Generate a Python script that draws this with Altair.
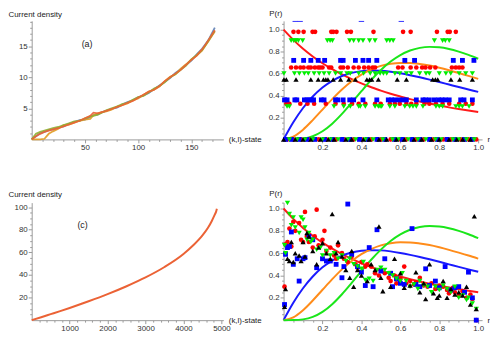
import altair as alt
import pandas as pd

# ---------------- Panel (a): current density vs (k,l)-state ----------------
a_x = [0, 4, 8, 12, 16, 20, 25, 30, 35, 40, 45, 50, 55, 58, 62, 66, 70, 75, 80, 85,
       90, 95, 100, 105, 110, 115, 120, 125, 130, 135, 140, 145, 150, 155, 160, 163,
       166, 169, 172]
a_blue = [0, 0.5, 1.0, 1.2, 1.5, 1.6, 1.9, 2.1, 2.5, 2.8, 3.1, 3.2, 3.6, 3.9, 4.0, 4.4,
          4.6, 4.9, 5.1, 5.6, 6.0, 6.3, 6.8, 7.1, 7.5, 8.1, 8.7, 9.3, 9.9, 10.7, 11.3,
          12.0, 12.7, 13.7, 14.6, 15.3, 16.0, 17.0, 18.0]
a_orange = [0, 0, 0, 0.1, 0.9, 1.3, 1.7, 2.3, 2.4, 2.7, 3.0, 3.2, 3.3, 3.9, 4.2, 4.4,
            4.5, 4.8, 5.3, 5.5, 5.8, 6.3, 6.6, 7.2, 7.7, 8.0, 8.5, 9.4, 10.1, 10.5,
            11.4, 12.1, 12.9, 13.5, 14.3, 15.1, 15.8, 16.6, 17.4]
a_green = [0, 0.9, 1.2, 1.4, 1.6, 1.8, 2.0, 2.3, 2.6, 2.9, 3.0, 3.4, 3.7, 3.8, 4.0, 4.3,
           4.7, 5.0, 5.3, 5.7, 5.9, 6.4, 6.8, 7.0, 7.6, 8.2, 8.6, 9.2, 10.0, 10.5, 11.2,
           11.9, 12.9, 13.6, 14.4, 15.1, 15.9, 16.7, 17.5]
a_red = [0, 0.5, 0.9, 1.2, 1.4, 1.6, 1.8, 2.1, 2.4, 2.7, 3.0, 3.4, 3.8, 4.3, 4.2, 4.4,
         4.6, 4.9, 5.2, 5.5, 5.9, 6.2, 6.7, 7.2, 7.7, 8.0, 8.6, 9.4, 10.0, 10.6, 11.2,
         12.0, 12.8, 13.5, 14.5, 15.2, 16.0, 16.8, 17.6]

# ---------------- Panel (c) ----------------
c_x = [0, 250, 500, 750, 1000, 1500, 2000, 2500, 3000, 3500, 4000, 4250, 4500, 4650,
       4750, 4820, 4860, 4880]
c_y = [0, 2.6, 5.3, 8.0, 10.8, 16.7, 23.0, 30.0, 37.8, 47.0, 58.5, 66.0, 75.0, 82.0,
       88.0, 93.0, 96.0, 98.5]

# ---------------- Reference curves P(r) ----------------
r_grid = [0, 0.05, 0.1, 0.15, 0.2, 0.25, 0.3, 0.35, 0.4, 0.45, 0.5, 0.55, 0.6, 0.65,
          0.7, 0.75, 0.8, 0.85, 0.9, 0.95, 1.0]
p_red = [1.0, 0.907, 0.826, 0.756, 0.694, 0.640, 0.592, 0.549, 0.510, 0.476, 0.444,
         0.416, 0.391, 0.367, 0.346, 0.327, 0.309, 0.292, 0.277, 0.263, 0.250]
p_blue = [0, 0.156, 0.286, 0.391, 0.473, 0.534, 0.578, 0.606, 0.622, 0.627, 0.625,
          0.616, 0.602, 0.585, 0.566, 0.545, 0.523, 0.500, 0.477, 0.455, 0.433]
p_orange = [0, 0.025, 0.089, 0.176, 0.272, 0.367, 0.455, 0.530, 0.591, 0.637, 0.670,
            0.689, 0.697, 0.696, 0.687, 0.673, 0.653, 0.630, 0.605, 0.579, 0.551]
p_green = [0, 0.0005, 0.007, 0.029, 0.074, 0.143, 0.232, 0.334, 0.439, 0.541, 0.632,
           0.709, 0.768, 0.810, 0.834, 0.843, 0.839, 0.824, 0.800, 0.770, 0.735]

# ---------------- Panel (b): discrete-level points ----------------
b_red_levels = [0.98, 0.655, 0.325, 0.0]
b_red_r = [
    [0.051, 0.076, 0.103, 0.149, 0.162, 0.245, 0.255, 0.272, 0.326, 0.346, 0.462,
     0.614, 0.653, 0.788, 0.843, 0.854, 0.885],
    [0.039, 0.064, 0.086, 0.103, 0.127, 0.140, 0.161, 0.178, 0.188, 0.200, 0.234,
     0.245, 0.293, 0.306, 0.330, 0.360, 0.386, 0.414, 0.437, 0.458, 0.470, 0.589,
     0.611, 0.653, 0.682, 0.712, 0.729, 0.753, 0.780, 0.865, 0.885, 0.902, 0.919],
    [0.014, 0.030, 0.086, 0.123, 0.157, 0.217, 0.267, 0.309, 0.352, 0.386, 0.420,
     0.470, 0.499, 0.546, 0.572, 0.597, 0.631, 0.656, 0.682, 0.724, 0.749, 0.783,
     0.817, 0.851, 0.902, 0.936, 0.970],
    [0.02, 0.05, 0.09, 0.13, 0.18, 0.22, 0.27, 0.31, 0.36, 0.40, 0.45, 0.50, 0.55,
     0.60, 0.63, 0.68, 0.72, 0.77, 0.82, 0.86, 0.91, 0.95, 0.99],
]
b_green_levels = [0.90, 0.60, 0.30, 0.0]
b_green_r = [
    [0.039, 0.052, 0.064, 0.076, 0.098, 0.225, 0.239, 0.251, 0.340, 0.360, 0.386,
     0.408, 0.442, 0.470, 0.530, 0.546, 0.563, 0.775, 0.817, 0.831, 0.851],
    [0.002, 0.056, 0.081, 0.107, 0.127, 0.157, 0.183, 0.208, 0.234, 0.267, 0.293,
     0.326, 0.343, 0.386, 0.411, 0.445, 0.470, 0.496, 0.513, 0.530, 0.572, 0.597,
     0.631, 0.656, 0.699, 0.732, 0.749, 0.800, 0.834, 0.859, 0.902, 0.936, 0.970],
    [0.018, 0.030, 0.259, 0.309, 0.343, 0.386, 0.394, 0.420, 0.470, 0.487, 0.496,
     0.504, 0.546, 0.572, 0.623, 0.648, 0.665, 0.682, 0.716, 0.783, 0.800, 0.817,
     0.885, 0.902, 0.919, 0.953],
    [0.03, 0.07, 0.11, 0.15, 0.20, 0.24, 0.28, 0.33, 0.37, 0.42, 0.46, 0.51, 0.56,
     0.59, 0.64, 0.69, 0.73, 0.78, 0.81, 0.87, 0.90, 0.94, 0.98],
]
b_blue_levels = [0.72, 0.36, 0.0]
b_blue_r = [
    [0.052, 0.103, 0.140, 0.178, 0.211, 0.293, 0.306, 0.369, 0.408, 0.437, 0.479,
     0.623, 0.673, 0.872, 0.919, 0.978],
    [0.005, 0.018, 0.058, 0.068, 0.107, 0.120, 0.132, 0.144, 0.154, 0.194, 0.208,
     0.267, 0.279, 0.306, 0.340, 0.360, 0.408, 0.479, 0.538, 0.555, 0.572, 0.594,
     0.614, 0.631, 0.682, 0.716, 0.729, 0.749, 0.775, 0.797, 0.814, 0.831, 0.851,
     0.910, 0.927, 0.970],
    [0.01, 0.04, 0.08, 0.12, 0.16, 0.21, 0.25, 0.30, 0.34, 0.39, 0.43, 0.48, 0.52,
     0.57, 0.61, 0.66, 0.70, 0.75, 0.79, 0.84, 0.88, 0.93, 0.97],
]
b_blue_clipped_r = [0.06, 0.085, 0.40, 0.605]
b_black_levels = [0.545, 0.0]
b_black_r = [
    [0.002, 0.014, 0.064, 0.140, 0.178, 0.205, 0.217, 0.228, 0.255, 0.293, 0.335,
     0.369, 0.428, 0.442, 0.453, 0.487, 0.584, 0.631, 0.766, 0.780, 0.792, 0.860,
     0.905, 0.970],
    [0.0, 0.06, 0.10, 0.14, 0.19, 0.23, 0.26, 0.32, 0.35, 0.41, 0.44, 0.49, 0.53,
     0.58, 0.62, 0.67, 0.71, 0.76, 0.80, 0.85, 0.89, 0.92, 0.96],
]

# ---------------- Panel (d): scattered points ----------------
d_blue_r = [0.005, 0.01, 0.02, 0.03, 0.04, 0.05, 0.07, 0.08, 0.10, 0.11, 0.13, 0.15,
            0.17, 0.20, 0.22, 0.24, 0.27, 0.30, 0.31, 0.33, 0.35, 0.38, 0.40, 0.42,
            0.44, 0.46, 0.48, 0.50, 0.52, 0.55, 0.56, 0.58, 0.60, 0.62, 0.66, 0.68,
            0.70, 0.73, 0.75, 0.78, 0.80, 0.83, 0.86, 0.88, 0.90, 0.93, 0.95, 0.97, 0.99]
d_blue_p = [0.14, 0.59, 0.65, 0.66, 0.79, 0.50, 0.55, 0.35, 0.55, 0.56, 0.75, 0.72,
            0.47, 0.55, 0.53, 0.53, 0.50, 0.38, 0.48, 1.04, 0.59, 0.48, 0.43, 0.31,
            0.65, 0.30, 0.81, 0.44, 0.55, 0.42, 0.30, 0.37, 0.33, 0.32, 0.82, 0.32,
            0.30, 0.46, 0.31, 0.35, 0.29, 0.48, 0.27, 0.29, 0.30, 0.25, 0.43, 0.20, 0.0]
d_black_r = [0.005, 0.01, 0.02, 0.03, 0.04, 0.05, 0.06, 0.08, 0.09, 0.10, 0.11, 0.12,
             0.13, 0.15, 0.17, 0.18, 0.20, 0.22, 0.24, 0.25, 0.27, 0.28, 0.30, 0.32,
             0.34, 0.35, 0.36, 0.38, 0.40, 0.43, 0.45, 0.47, 0.49, 0.50, 0.51, 0.55,
             0.57, 0.60, 0.62, 0.65, 0.68, 0.70, 0.72, 0.73, 0.75, 0.77, 0.79, 0.80,
             0.82, 0.84, 0.86, 0.88, 0.90, 0.92, 0.94, 0.96, 0.98, 0.99]
d_black_p = [0.12, 0.28, 0.55, 0.53, 0.70, 0.52, 0.60, 0.58, 0.53, 0.70, 0.57, 0.78,
             0.75, 0.62, 0.50, 0.65, 0.69, 0.60, 0.55, 0.95, 0.60, 0.70, 0.57, 0.45,
             0.38, 0.62, 0.30, 0.45, 0.40, 0.35, 0.50, 0.45, 0.84, 0.38, 0.26, 0.30,
             0.55, 0.42, 0.29, 0.31, 0.43, 0.25, 0.33, 0.19, 0.50, 0.24, 0.20, 0.22,
             0.35, 0.20, 0.28, 0.23, 0.25, 0.22, 0.30, 0.14, 0.93, 0.10]
d_red_r = [0.005, 0.01, 0.02, 0.03, 0.04, 0.05, 0.06, 0.08, 0.09, 0.10, 0.11, 0.12,
           0.13, 0.15, 0.16, 0.17, 0.18, 0.20, 0.21, 0.22, 0.24, 0.26, 0.27, 0.28,
           0.30, 0.31, 0.33, 0.35, 0.37, 0.38, 0.40, 0.42, 0.43, 0.45, 0.47, 0.49,
           0.50, 0.52, 0.54, 0.55, 0.57, 0.58, 0.60, 0.62, 0.63, 0.65, 0.67, 0.68,
           0.70, 0.72, 0.74, 0.76, 0.78, 0.80, 0.82, 0.84, 0.85, 0.87, 0.88, 0.90,
           0.92, 0.94, 0.96, 0.97, 0.99]
d_red_p = [0.30, 0.68, 0.70, 0.82, 0.66, 0.88, 0.80, 0.87, 0.72, 0.70, 0.97, 0.75,
           0.70, 0.65, 0.75, 0.99, 0.67, 0.72, 0.80, 0.62, 0.65, 0.58, 0.55, 0.67,
           0.60, 0.55, 0.52, 0.57, 0.50, 0.47, 0.52, 0.48, 0.50, 0.48, 0.42, 0.40,
           0.45, 0.42, 0.38, 0.35, 0.40, 0.33, 0.37, 0.48, 0.33, 0.35, 0.32, 0.34,
           0.38, 0.31, 0.30, 0.33, 0.28, 0.31, 0.30, 0.27, 0.24, 0.29, 0.25, 0.22,
           0.26, 0.20, 0.23, 0.19, 0.0]
d_green_r = [0.005, 0.01, 0.02, 0.03, 0.04, 0.05, 0.06, 0.08, 0.09, 0.10, 0.11, 0.12,
             0.13, 0.14, 0.15, 0.17, 0.19, 0.20, 0.22, 0.24, 0.26, 0.28, 0.30, 0.32,
             0.34, 0.36, 0.38, 0.40, 0.41, 0.42, 0.44, 0.46, 0.48, 0.50, 0.52, 0.54,
             0.56, 0.58, 0.60, 0.61, 0.63, 0.65, 0.67, 0.69, 0.70, 0.72, 0.74, 0.76,
             0.78, 0.80, 0.82, 0.84, 0.86, 0.88, 0.90, 0.92, 0.94, 0.95, 0.97, 0.99]
d_green_p = [0.67, 0.60, 1.05, 0.95, 0.85, 0.92, 0.83, 0.78, 0.92, 0.90, 0.83, 0.72,
             0.78, 0.70, 0.72, 0.63, 0.65, 0.58, 0.62, 0.58, 0.60, 0.55, 0.58, 0.53,
             0.55, 0.50, 0.48, 0.46, 0.52, 0.36, 0.37, 0.35, 0.45, 0.47, 0.45, 0.42,
             0.40, 0.37, 0.35, 0.42, 0.35, 0.30, 0.32, 0.28, 0.35, 0.31, 0.30, 0.25,
             0.30, 0.27, 0.31, 0.28, 0.25, 0.30, 0.20, 0.22, 0.18, 0.20, 0.15, 0.10]

# ---------------- styling helpers ----------------
FONT = "Liberation Sans"
AXIS_COLOR = "#9a9a9a"


def tsize(test):
    return {"condition": {"test": test, "value": 3.5}, "value": 2}


def axis(values, test, fmt, title, tx, ty, talign, tbase):
    return alt.Axis(
        values=values, format=fmt,
        labelExpr=f"({test}) ? datum.label : ''",
        tickSize=tsize(test), labelOverlap=False, labelFlush=False,
        title=title, titleX=tx, titleY=ty, titleAlign=talign,
        titleBaseline=tbase, titleAngle=0,
    )


def pts(rs, ps):
    return pd.DataFrame({"r": rs, "p": ps})


def level_pts(levels, rlists):
    rs, ps = [], []
    for lv, rl in zip(levels, rlists):
        rs += rl
        ps += [lv] * len(rl)
    return pts(rs, ps)


def label(text, x, y, X, Y):
    return alt.Chart(pd.DataFrame({"x": [x], "y": [y], "t": [text]})).mark_text(
        font=FONT, fontSize=9, color="#222222"
    ).encode(x=X, y=Y, text="t:N")


# ---------------- panel (a) ----------------
WL, WR = 194, 201
HT, HB = 120, 119

Xa = alt.X("x:Q", scale=alt.Scale(domain=[0, 180], nice=False, zero=False),
           axis=axis(list(range(10, 180, 10)), "datum.value % 50 === 0", "d",
                     "(k,l)-state", WL + 5, 0, "left", "middle"))
Ya = alt.Y("y:Q", scale=alt.Scale(domain=[0, 19.1], nice=False, zero=False),
           axis=axis(list(range(1, 20)), "datum.value % 5 === 0", "d",
                     "Current density", -24, -6, "left", "middle"))
a_layers = []
for vals, col in [(a_blue, "#5E81B5"), (a_orange, "#E19C24"),
                  (a_green, "#8FB032"), (a_red, "#EB6235")]:
    a_layers.append(
        alt.Chart(pd.DataFrame({"x": a_x, "y": vals}))
        .mark_line(color=col, strokeWidth=1.8, opacity=0.9)
        .encode(x=Xa, y=Ya)
    )
panel_a = alt.layer(*a_layers, label("(a)", 52, 15.3, Xa, Ya)).properties(
    width=WL, height=HT)

# ---------------- panel (c) ----------------
Xc = alt.X("x:Q", scale=alt.Scale(domain=[0, 5050], nice=False, zero=False),
           axis=axis(list(range(200, 5050, 200)), "datum.value % 1000 === 0", "d",
                     "(k,l)-state", WL + 5, 0, "left", "middle"))
Yc = alt.Y("y:Q", scale=alt.Scale(domain=[0, 104], nice=False, zero=False),
           axis=axis(list(range(5, 105, 5)), "datum.value % 20 === 0", "d",
                     "Current density", -24, -8, "left", "middle"))
panel_c = alt.layer(
    alt.Chart(pd.DataFrame({"x": c_x, "y": c_y}))
    .mark_line(color="#EB6235", strokeWidth=2, interpolate="monotone")
    .encode(x=Xc, y=Yc),
    label("(c)", 1340, 84, Xc, Yc),
).properties(width=WL, height=HB)

# ---------------- panels (b), (d) ----------------
TEST02 = "abs(datum.value*5 - round(datum.value*5)) < 0.001"
r_ticks = [round(0.05 * i, 2) for i in range(1, 21)]


def p_panel(ymax, height, point_layers, lab, lx, ly, ty, extra=None):
    X = alt.X("r:Q", scale=alt.Scale(domain=[0, 1.02], nice=False, zero=False),
              axis=axis(r_ticks, TEST02, ".1f", "r", WR + 5, 0, "left", "middle"))
    Y = alt.Y("p:Q", scale=alt.Scale(domain=[0, ymax], nice=False, zero=False),
              axis=axis([round(0.05 * i, 2) for i in range(1, 22) if 0.05 * i <= ymax],
                        TEST02, ".1f", "P(r)", -15, ty, "left", "middle"))
    layers = []
    for vals, col in [(p_red, "#FF1A1A"), (p_blue, "#1A1AFF"),
                      (p_orange, "#FF8C1A"), (p_green, "#1AE61A")]:
        layers.append(
            alt.Chart(pts(r_grid, vals))
            .mark_line(color=col, strokeWidth=2, interpolate="monotone")
            .encode(x=X, y=Y)
        )
    for df, shape, col, size in point_layers:
        layers.append(
            alt.Chart(df).mark_point(shape=shape, filled=True, color=col, size=size,
                                     opacity=1)
            .encode(x=X, y=Y)
        )
    if extra is not None:
        layers.append(alt.Chart(extra).mark_point(
            shape="stroke", color="#3333ff", size=30, strokeWidth=1, opacity=1
        ).encode(x=X, y=Y))
    layers.append(label(lab, lx, ly, X, Y))
    return alt.layer(*layers).properties(width=WR, height=height)


b_points = [
    (level_pts(b_red_levels, b_red_r), "circle", "#FF0000", 22),
    (level_pts(b_blue_levels, b_blue_r), "square", "#0000FF", 24),
    (level_pts(b_green_levels, b_green_r), "triangle-down", "#00EE00", 28),
    (level_pts(b_black_levels, b_black_r), "triangle-up", "#000000", 28),
]
panel_b = p_panel(1.08, HT, b_points, "(b)", 0.55, 0.18, -7,
                  extra=pts(b_blue_clipped_r, [1.075] * len(b_blue_clipped_r)))

d_points = [
    (pts(d_red_r, d_red_p), "circle", "#FF0000", 22),
    (pts(d_blue_r, d_blue_p), "square", "#0000FF", 24),
    (pts(d_green_r, d_green_p), "triangle-down", "#00EE00", 28),
    (pts(d_black_r, d_black_p), "triangle-up", "#000000", 28),
]
panel_d = p_panel(1.053, HB, d_points, "(d)", 0.36, 0.92, -9)

chart = (
    alt.concat(panel_a, panel_b, panel_c, panel_d, columns=2,
               spacing={"row": 64, "column": 61}, bounds="flush")
    .properties(padding=0)
    .configure_view(stroke=None)
    .configure_axis(
        domainColor=AXIS_COLOR, tickColor=AXIS_COLOR, domainWidth=1, tickWidth=1,
        labelColor="#333333", labelFont=FONT, labelFontSize=8, labelPadding=1,
        titleFont=FONT, titleFontSize=8, titleFontWeight="normal",
        titleColor="#222222", grid=False,
    )
)

chart.save("out.html", embed_options={"renderer": "svg", "actions": False})
